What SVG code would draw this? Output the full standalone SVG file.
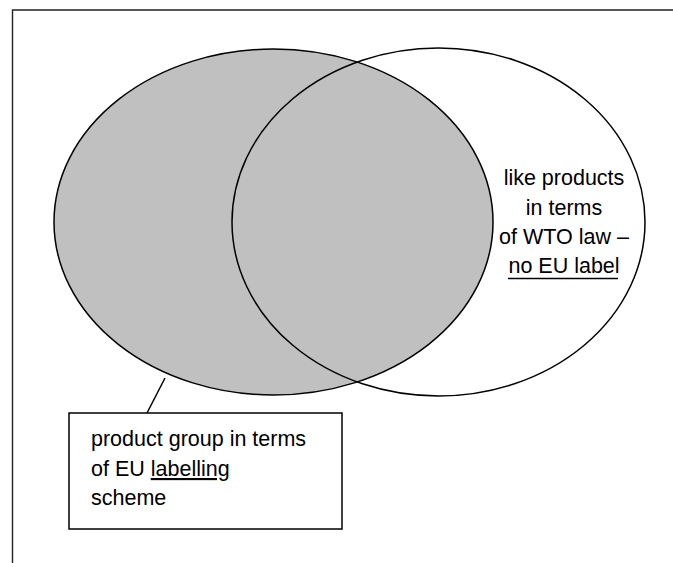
<svg xmlns="http://www.w3.org/2000/svg" width="673" height="563" viewBox="0 0 673 563">
<style>
.ln{fill:none;stroke:#000;stroke-width:1.5}
.t{font-family:"Liberation Sans",Arial,sans-serif;font-size:21.5px;fill:#000}
</style>
<rect x="0" y="0" width="673" height="563" fill="#fff"/>
<g id="frame"><path d="M12.5 563 V10 H673" fill="none" stroke="#222" stroke-width="1.4"/></g>
<g id="eu-group"><ellipse cx="273.5" cy="222" rx="219.5" ry="173" fill="#c0c0c0" stroke="#000" stroke-width="1.5"/></g>
<g id="wto-like"><ellipse cx="438.5" cy="222" rx="206.5" ry="174" class="ln"/>
<text class="t" text-anchor="middle"><tspan x="564" y="185">like products</tspan><tspan x="564" y="215">in terms</tspan><tspan x="564" y="244">of WTO law –</tspan><tspan x="564" y="273">no EU label</tspan></text>
<line x1="508" y1="278.5" x2="618" y2="278.5" stroke="#000" stroke-width="1.3"/></g>
<g id="connectors"><line x1="147" y1="413" x2="165" y2="378" class="ln"/></g>
<g id="label-box"><rect x="69" y="413" width="273" height="116" fill="#fff" stroke="#000" stroke-width="1.5"/>
<text class="t"><tspan x="91" y="446">product group in terms</tspan><tspan x="91" y="476">of EU <tspan text-decoration="underline">labelling</tspan></tspan><tspan x="91" y="505">scheme</tspan></text></g>
</svg>
